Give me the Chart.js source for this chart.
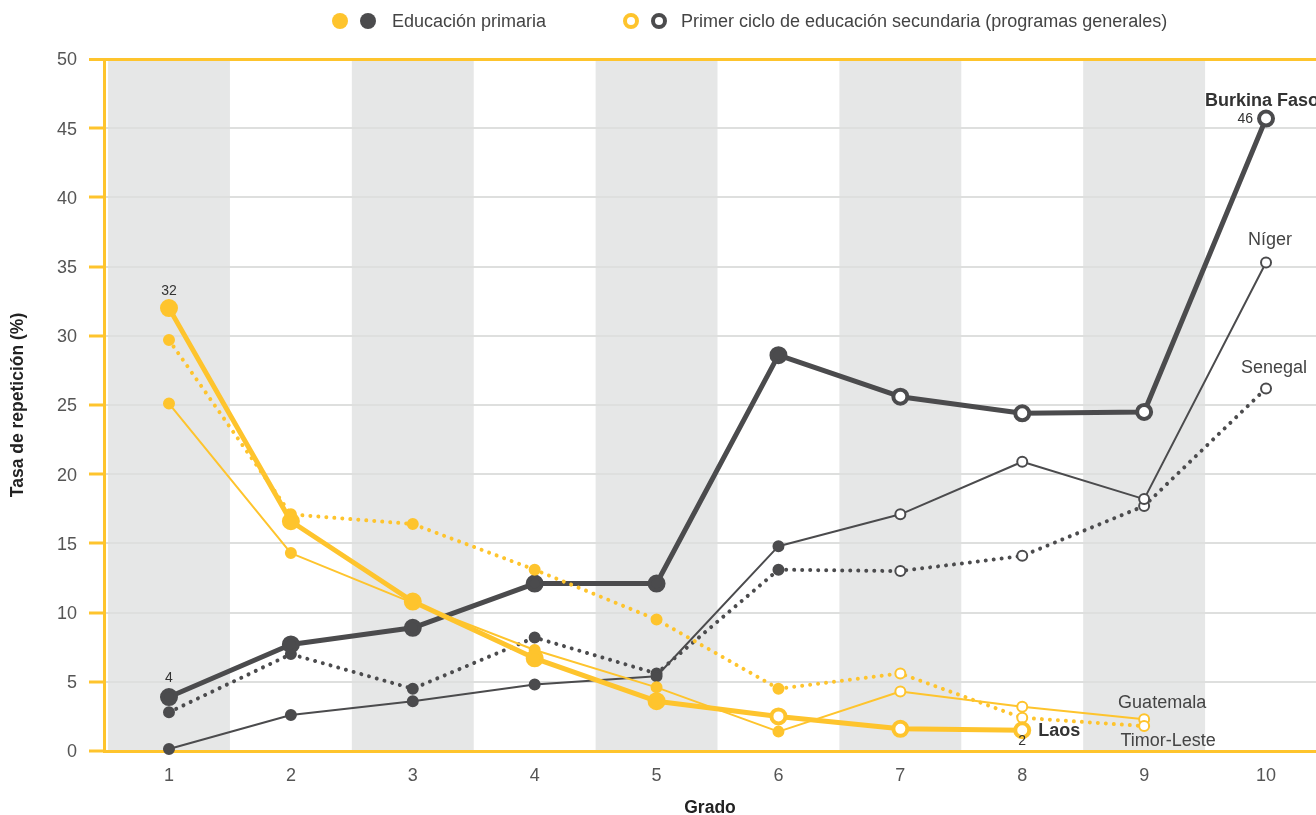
<!DOCTYPE html>
<html><head><meta charset="utf-8">
<script src="https://cdn.jsdelivr.net/npm/chart.js@4.4.1/dist/chart.umd.min.js"></script>
<style>
html,body{margin:0;padding:0;background:#fff;}
#wrap{position:relative;width:1316px;height:815px;overflow:hidden;font-family:"Liberation Sans",Arial,sans-serif;}
canvas{position:absolute;left:0;top:0;}
.dot{position:absolute;width:16px;height:16px;border-radius:50%;box-sizing:border-box;}
.lt{position:absolute;top:10px;font-size:18px;color:#444;line-height:22px;white-space:nowrap;}
</style></head>
<body><div id="wrap">
<canvas id="c" width="1316" height="815"></canvas>
<div class="dot" style="left:332px;top:13px;background:#FEC42D"></div>
<div class="dot" style="left:360px;top:13px;background:#4B4B4D"></div>
<div class="lt" style="left:392px">Educación primaria</div>
<div class="dot" style="left:623px;top:13px;background:#fff;border:4px solid #FEC42D"></div>
<div class="dot" style="left:651px;top:13px;background:#fff;border:4px solid #4B4B4D"></div>
<div class="lt" style="left:681px">Primer ciclo de educación secundaria (programas generales)</div>
</div>
<script>
const grades = [1, 2, 3, 4, 5, 6, 7, 8, 9, 10];
const yTicks = [0, 5, 10, 15, 20, 25, 30, 35, 40, 45, 50];
const laos = [32.0, 16.6, 10.8, 6.7, 3.6, 2.5, 1.6, 1.5, null, null];
const guatemala = [25.1, 14.3, 10.7, 7.3, 4.6, 1.4, 4.3, 3.2, 2.3, null];
const timorLeste = [29.7, 17.1, 16.4, 13.1, 9.5, 4.5, 5.6, 2.4, 1.8, null];
const burkinaFaso = [3.9, 7.7, 8.9, 12.1, 12.1, 28.6, 25.6, 24.4, 24.5, 45.7];
const niger = [0.15, 2.6, 3.6, 4.8, 5.4, 14.8, 17.1, 20.9, 18.2, 35.3];
const senegal = [2.8, 7.0, 4.5, 8.2, 5.6, 13.1, 13.0, 14.1, 17.7, 26.2];
const lastPrimaryGrade = [5, 6, 6, 6, 6, 6]; // Laos, Timor-Leste, Guatemala, Burkina Faso, Níger, Senegal
const shadedGrades = [1, 3, 5, 7, 9];

const YEL = '#FEC42D', DARK = '#4B4B4D';
const FF = '"Liberation Sans", Arial, sans-serif';

function ds(label, vals, color, style, lastPrim) {
  const thick = style === 'thick', dotted = style === 'dotted';
  return {
    label: label,
    data: grades.map((g, i) => ({x: g, y: vals[i]})).filter(p => p.y !== null),
    borderColor: color,
    borderWidth: thick ? 5 : (dotted ? 4 : 2),
    borderDash: dotted ? [0.01, 8] : [],
    borderCapStyle: dotted ? 'round' : 'butt',
    borderJoinStyle: 'round',
    pointRadius: thick ? 7 : 5,
    pointHoverRadius: thick ? 7 : 5,
    pointBorderWidth: thick ? 4 : 2,
    pointHoverBorderWidth: thick ? 4 : 2,
    pointBorderColor: color,
    pointBackgroundColor: ctx => (ctx.raw && ctx.raw.x <= lastPrim) ? color : '#fff',
    pointHoverBackgroundColor: ctx => (ctx.raw && ctx.raw.x <= lastPrim) ? color : '#fff',
    clip: false,
    tension: 0
  };
}

const datasets = [
  ds('Laos', laos, YEL, 'thick', lastPrimaryGrade[0]),
  ds('Timor-Leste', timorLeste, YEL, 'dotted', lastPrimaryGrade[1]),
  ds('Guatemala', guatemala, YEL, 'thin', lastPrimaryGrade[2]),
  ds('Burkina Faso', burkinaFaso, DARK, 'thick', lastPrimaryGrade[3]),
  ds('Níger', niger, DARK, 'thin', lastPrimaryGrade[4]),
  ds('Senegal', senegal, DARK, 'dotted', lastPrimaryGrade[5])
];

// text annotations anchored to data points (pixel offsets only)
const notes = [
  {ds: 0, grade: 1, text: '32', dx: 0, dy: -17, align: 'center', font: '14px ' + FF, color: '#333'},
  {ds: 0, grade: 8, text: '2', dx: 0, dy: 11, align: 'center', font: '14px ' + FF, color: '#333'},
  {ds: 0, grade: 8, text: 'Laos', dx: 16, dy: 1, align: 'left', font: 'bold 18px ' + FF, color: '#333'},
  {ds: 3, grade: 1, text: '4', dx: 0, dy: -19, align: 'center', font: '14px ' + FF, color: '#333'},
  {ds: 3, grade: 10, text: '46', dx: -13, dy: 1, align: 'right', font: '14px ' + FF, color: '#333'},
  {ds: 3, grade: 10, text: 'Burkina Faso', dx: -61, dy: -17, align: 'left', font: 'bold 18px ' + FF, color: '#333'},
  {ds: 4, grade: 10, text: 'Níger', dx: 4, dy: -22, align: 'center', font: '18px ' + FF, color: '#444'},
  {ds: 5, grade: 10, text: 'Senegal', dx: 8, dy: -20, align: 'center', font: '18px ' + FF, color: '#444'},
  {ds: 2, grade: 9, text: 'Guatemala', dx: 18, dy: -16, align: 'center', font: '18px ' + FF, color: '#444'},
  {ds: 1, grade: 9, text: 'Timor-Leste', dx: 24, dy: 15, align: 'center', font: '18px ' + FF, color: '#444'}
];

const bandsPlugin = {
  id: 'bands',
  beforeDraw(chart) {
    const {ctx, chartArea, scales} = chart;
    ctx.save();
    ctx.fillStyle = '#E6E7E7';
    shadedGrades.forEach(g => {
      const x0 = Math.max(scales.x.getPixelForValue(g - 0.5), chartArea.left);
      const x1 = Math.min(scales.x.getPixelForValue(g + 0.5), chartArea.right);
      ctx.fillRect(x0, chartArea.top, x1 - x0, chartArea.bottom - chartArea.top);
    });
    ctx.restore();
  }
};

const notesPlugin = {
  id: 'notes',
  afterDatasetsDraw(chart) {
    const {ctx, scales} = chart;
    ctx.save();
    ctx.textBaseline = 'middle';
    notes.forEach(n => {
      const p = chart.data.datasets[n.ds].data.find(d => d.x === n.grade);
      if (!p) return;
      const x = scales.x.getPixelForValue(p.x) + n.dx;
      const y = scales.y.getPixelForValue(p.y) + n.dy;
      ctx.font = n.font;
      ctx.fillStyle = n.color;
      ctx.textAlign = n.align;
      ctx.fillText(n.text, x, y);
    });
    ctx.restore();
  }
};

new Chart(document.getElementById('c'), {
  type: 'line',
  data: {datasets: datasets},
  options: {
    responsive: false,
    animation: false,
    events: [],
    layout: {autoPadding: false, padding: {top: 59, right: 0, bottom: 0, left: 0}},
    plugins: {legend: {display: false}, tooltip: {enabled: false}},
    scales: {
      x: {
        type: 'linear',
        min: 0.4668,
        max: 10.41,
        afterFit: s => { s.height = 64; },
        afterBuildTicks: s => { s.ticks = grades.map(v => ({value: v})); },
        grid: {display: true, drawOnChartArea: false, drawTicks: false},
        border: {display: true, color: YEL, width: 3},
        ticks: {padding: 14, color: '#555', font: {family: FF, size: 18}, callback: v => String(v)},
        title: {display: true, text: 'Grado', color: '#222', padding: {top: 0, bottom: 0},
                font: {family: FF, size: 17.5, weight: 'bold', lineHeight: 0.8}}
      },
      y: {
        min: 0,
        max: 50,
        afterFit: s => { s.width = 104; },
        afterBuildTicks: s => { s.ticks = yTicks.map(v => ({value: v})); },
        grid: {
          color: c => (c.tick && (c.tick.value === 50 || c.tick.value === 0)) ? YEL : '#DEDFDE',
          lineWidth: c => (c.tick && (c.tick.value === 50)) ? 3 : 2,
          tickColor: YEL, tickWidth: 3, tickLength: 15
        },
        border: {display: true, color: YEL, width: 3},
        ticks: {padding: 12, labelOffset: 1.5, color: '#555', font: {family: FF, size: 18}},
        title: {display: true, text: 'Tasa de repetición (%)', color: '#222', padding: {top: 9.5, bottom: 0},
                font: {family: FF, size: 17.5, weight: 'bold', lineHeight: 1}}
      }
    }
  },
  plugins: [bandsPlugin, notesPlugin]
});
</script>
</body></html>
